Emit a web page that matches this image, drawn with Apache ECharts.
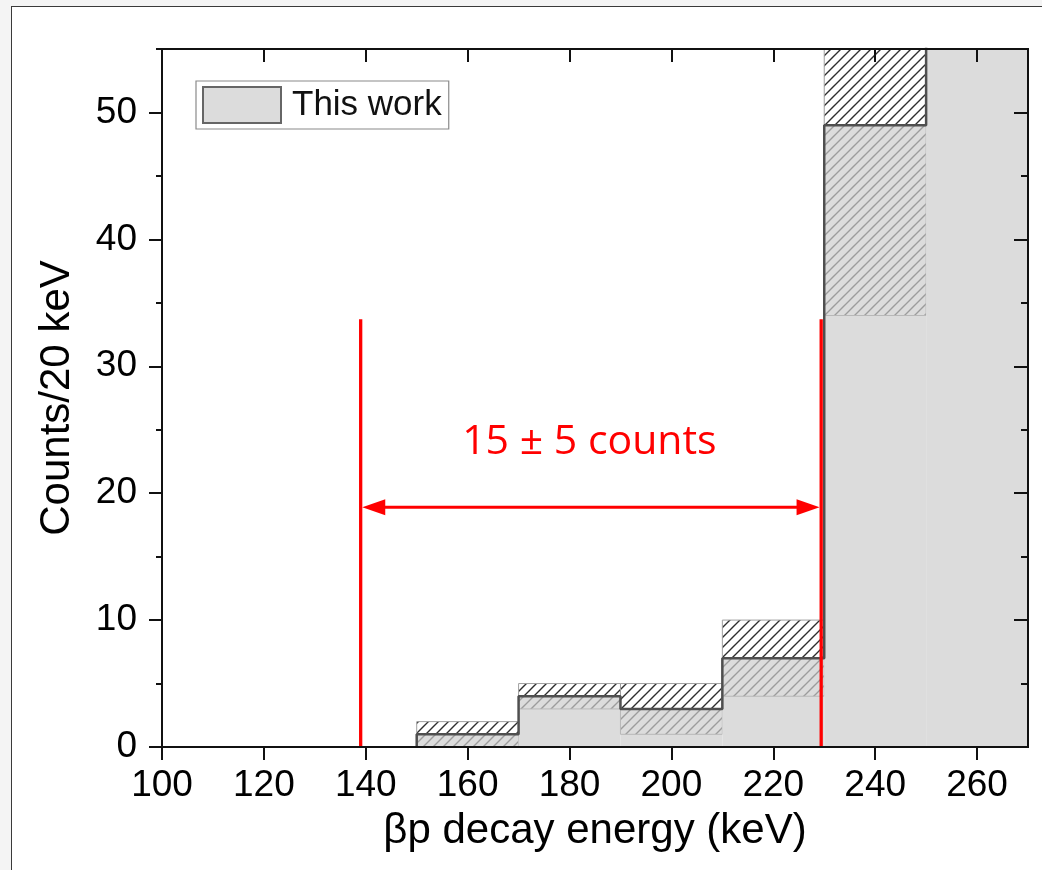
<!DOCTYPE html>
<html><head><meta charset="utf-8">
<script src="https://cdn.jsdelivr.net/npm/echarts@6/dist/echarts.min.js"></script>
<style>
html,body{margin:0;padding:0;background:#f4f4f4;width:1042px;height:870px;overflow:hidden;}
#frame{position:absolute;left:11px;top:6px;width:1100px;height:1000px;background:#fff;border:1.5px solid #3a3a3a;box-sizing:border-box;}
#chart{position:absolute;left:0;top:0;width:1042px;height:870px;}
</style></head><body><div id="frame"></div><div id="chart"></div>
<script>
// ---- data ----
const binStart = [150, 170, 190, 210, 230, 250];
const binWidth = 20;
const counts   = [1, 4, 3, 7, 49, 100];
const errLow   = [0, 3, 1, 4, 34, 80];
const errHigh  = [2, 5, 5, 10, 64, 120];
const xTicks = [100, 120, 140, 160, 180, 200, 220, 240, 260];
const yTicks = [0, 10, 20, 30, 40, 50];
const yMinorTicks = [5, 15, 25, 35, 45, 55];
const windowEdges = [139, 229.4];
const windowTop = 33.7;
const arrowY = 18.9;
const annotationText = '15 ± 5 counts';
const annotationPos = [183.9, 24];
const seriesName = 'This work';
const xTitle = 'βp decay energy (keV)';
const yTitle = 'Counts/20 keV';

// ---- styling helpers ----
const FONT = "'Liberation Sans', Arial, sans-serif";
function hatch(color, lw) {
  const c = document.createElement('canvas'); c.width = 10; c.height = 10;
  const g = c.getContext('2d'); g.strokeStyle = color; g.lineWidth = lw;
  g.beginPath();
  g.moveTo(-1, 11); g.lineTo(11, -1);
  g.moveTo(-1, 1); g.lineTo(1, -1);
  g.moveTo(9, 11); g.lineTo(11, 9);
  g.stroke();
  return c;
}
const hatchDark = { image: hatch('#2e2e2e', 1.4), repeat: 'repeat' };
const hatchLight = { image: hatch('#9c9c9c', 1.4), repeat: 'repeat' };

const histData = binStart.map((s, i) => [s, s + binWidth, counts[i], errLow[i], errHigh[i]]);
const stepPts = [];
binStart.forEach((s, i) => {
  stepPts.push([s, i === 0 ? 0 : counts[i - 1]]);
  stepPts.push([s, counts[i]]);
  stepPts.push([s + binWidth, counts[i]]);
});

const chart = echarts.init(document.getElementById('chart'), null, { renderer: 'canvas' });

function axisCommon(extra) {
  return Object.assign({
    type: 'value', splitLine: { show: false }, z: 10,
    axisLine: { show: true, onZero: false, lineStyle: { color: '#111', width: 2 } },
  }, extra);
}

const option = {
  animation: false,
  grid: { left: 162, top: 49, right: 14, bottom: 123, containLabel: false },
  legend: {
    data: [{ name: seriesName, icon: 'rect', itemStyle: { color: '#dcdcdc', borderColor: '#666', borderWidth: 2 } }],
    left: 196, top: 81, padding: [5, 7, 5, 6], itemWidth: 78, itemHeight: 36,
    borderColor: '#8a8a8a', borderWidth: 1.2, selectedMode: false,
    textStyle: { fontSize: 35, fontFamily: FONT, color: '#111', padding: [0, 0, 0, 6] }
  },
  xAxis: [
    axisCommon({
      position: 'bottom', min: 100, max: 270,
      axisTick: { show: true, customValues: xTicks, length: 13, inside: false, lineStyle: { color: '#111', width: 2 } },
      axisLabel: { customValues: xTicks, fontSize: 37, fontFamily: FONT, color: '#000', margin: 20 },
      name: xTitle, nameLocation: 'middle', nameGap: 63,
      nameTextStyle: { fontSize: 42, fontFamily: FONT, color: '#000' }
    }),
    axisCommon({
      position: 'top', min: 100, max: 270,
      axisTick: { show: true, customValues: xTicks, length: 13, inside: true, lineStyle: { color: '#111', width: 2 } },
      axisLabel: { show: false }
    })
  ],
  yAxis: [
    axisCommon({
      position: 'left', min: 0, max: 55,
      axisTick: { show: true, customValues: yTicks, length: 13, inside: false, lineStyle: { color: '#111', width: 2 } },
      axisLabel: { customValues: yTicks, fontSize: 37, fontFamily: FONT, color: '#000', margin: 25 },
      name: yTitle, nameLocation: 'middle', nameGap: 84, nameRotate: 90,
      nameTextStyle: { fontSize: 42, fontFamily: FONT, color: '#000' }
    }),
    axisCommon({
      position: 'left', min: 0, max: 55,
      axisTick: { show: true, customValues: yMinorTicks, length: 6, inside: false, lineStyle: { color: '#111', width: 2 } },
      axisLabel: { show: false }
    }),
    axisCommon({
      position: 'right', min: 0, max: 55,
      axisTick: { show: true, customValues: yTicks, length: 14, inside: true, lineStyle: { color: '#111', width: 2 } },
      axisLabel: { show: false }
    }),
    axisCommon({
      position: 'right', min: 0, max: 55,
      axisTick: { show: true, customValues: yMinorTicks, length: 7, inside: true, lineStyle: { color: '#111', width: 2 } },
      axisLabel: { show: false }
    })
  ],
  series: [
    {
      name: seriesName, type: 'custom', z: 2, silent: true,
      itemStyle: { color: '#dcdcdc' },
      data: histData,
      renderItem(params, api) {
        const x0 = api.value(0), x1 = api.value(1), c = api.value(2), lo = api.value(3), hi = api.value(4);
        const cs = params.coordSys;
        function rect(a, b) {
          const p0 = api.coord([x0, a]), p1 = api.coord([x1, b]);
          const top = Math.max(p1[1], cs.y), bot = Math.min(p0[1], cs.y + cs.height);
          return { x: p0[0], y: top, width: p1[0] - p0[0], height: Math.max(0, bot - top) };
        }
        const children = [
          { type: 'rect', shape: rect(0, c), style: { fill: '#dcdcdc', stroke: null } }
        ];
        if (Math.min(c, hi) > lo) {
          children.push({ type: 'rect', shape: rect(lo, Math.min(c, hi)), style: { fill: hatchLight, stroke: '#b8b8b8', lineWidth: 1 } });
        }
        if (hi > Math.max(c, lo)) {
          children.push({ type: 'rect', shape: rect(Math.max(c, lo), hi), style: { fill: hatchDark, stroke: '#a0a0a0', lineWidth: 1 } });
        }
        return { type: 'group', children };
      }
    },
    {
      name: 'outline', type: 'line', z: 3, silent: true, symbol: 'none', clip: true,
      data: stepPts,
      lineStyle: { color: '#4f4f4f', width: 2.5 }
    },
    {
      name: 'annotation', type: 'custom', z: 5, silent: true, clip: false,
      data: [[windowEdges[0], arrowY]],
      renderItem(params, api) {
        const red = '#ff0000';
        const children = [];
        windowEdges.forEach(x => {
          const a = api.coord([x, 0]), b = api.coord([x, windowTop]);
          children.push({ type: 'line', shape: { x1: a[0], y1: a[1], x2: b[0], y2: b[1] }, style: { stroke: red, lineWidth: 3.3 } });
        });
        const l = api.coord([windowEdges[0], arrowY]), r = api.coord([windowEdges[1], arrowY]);
        const L = 23, H = 8, off = 1.6;
        children.push({ type: 'line', shape: { x1: l[0] + off + 10, y1: l[1], x2: r[0] - off - 10, y2: r[1] }, style: { stroke: red, lineWidth: 3 } });
        children.push({ type: 'polygon', shape: { points: [[l[0] + off, l[1]], [l[0] + off + L, l[1] - H], [l[0] + off + L, l[1] + H]] }, style: { fill: red } });
        children.push({ type: 'polygon', shape: { points: [[r[0] - off, r[1]], [r[0] - off - L, r[1] - H], [r[0] - off - L, r[1] + H]] }, style: { fill: red } });
        const t = api.coord(annotationPos);
        children.push({ type: 'text', x: t[0], y: t[1], style: { text: annotationText, fill: red, fontSize: 41, fontFamily: "'Open Sans', sans-serif", align: 'center', verticalAlign: 'middle' } });
        return { type: 'group', children };
      }
    }
  ]
};
chart.setOption(option);
</script>
</body></html>
